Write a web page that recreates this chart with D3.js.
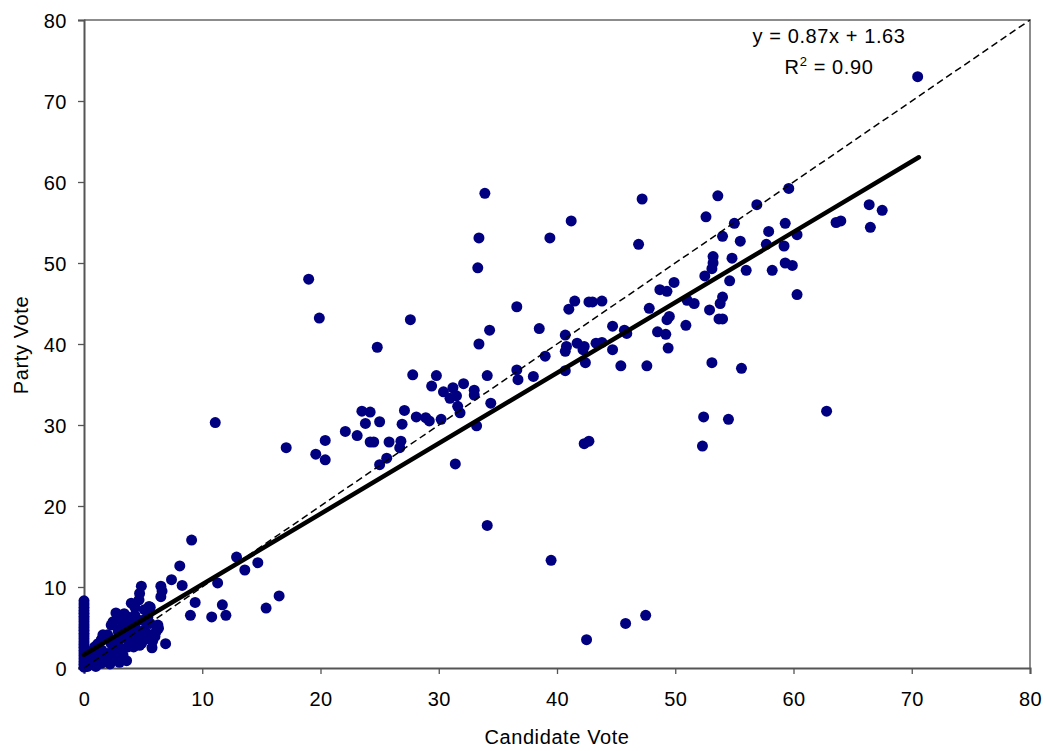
<!DOCTYPE html>
<html>
<head>
<meta charset="utf-8">
<script src="https://cdn.jsdelivr.net/npm/d3@7/dist/d3.min.js"></script>
<style>
  html, body { margin: 0; padding: 0; background: #ffffff; }
  text { font-family: "Liberation Sans", Arial, sans-serif; fill: #000; }
</style>
</head>
<body>
<svg id="chart" width="1045" height="751"></svg>
<script>
// ---- Data ----
const candidateVote = [
  70.5,33.9,47.2,53.6,59.6,41.2,33.4,39.4,46.9,52.6,56.9,55.0,54.0,55.5,57.9,59.3,57.7,59.2,60.3,33.3,
  53.2,53.2,53.1,54.8,58.2,59.3,59.9,56.0,52.5,54.6,49.9,48.7,49.3,60.3,51.0,51.6,54.0,53.8,52.9,53.7,
  54.0,47.8,41.5,42.7,43.0,43.8,41.0,36.6,27.6,34.3,38.5,33.4,40.7,40.8,40.7,41.7,42.3,42.2,43.3,43.8,
  44.7,45.7,45.9,44.7,42.4,39.0,45.4,47.6,48.5,49.2,50.9,49.4,49.5,49.3,53.1,55.6,27.8,29.8,29.4,30.4,
  31.2,32.1,33.0,33.0,34.1,36.6,36.7,38.0,40.7,30.95,31.5,66.4,67.5,63.6,64.0,66.5,62.8,52.3,52.4,54.5,
  42.3,42.7,39.5,45.8,47.5,42.5,11.1,17.1,19.6,20.4,20.4,22.1,23.1,23.5,24.2,23.8,25.0,24.2,24.5,25.8,
  25.0,25.6,26.7,26.8,26.9,27.1,28.1,28.9,29.2,30.2,31.6,31.8,34.4,33.2,31.4,34.1,19.0,19.9,24.8,
  9.1,8.1,7.4,12.9,13.6,14.7,8.3,5.6,11.3,9.4,11.7,9.0,10.8,12.0,15.4,16.5,
  4.85,4.7,4.65,4.0,5.5,6.5,6.6,6.5,2.7,3.4,3.7,4.3,4.6,5.4,5.6,2.45,2.3,3.4,3.1,6.25,
  6.1,6.0,5.8,5.75,6.9,3.6,1.75,1.47,1.18,0.9,0.76,0.62,2.3,2.9,3.4,4.0,4.6,5.1,2.0,2.6,
  3.15,3.7,4.3,4.85,5.1,1.2,1.75,2.3,2.9,3.3,0.34,0.9,1.5,2.0,2.7,0.05,0.6,1.5,3.15,2.9,
  2.0,3.7,4.3,5.0,5.1,4.3,3.9,6.3,4.45,5.0,4.7,4.2,3.6,3.0,2.5,1.6,1.5,1.1,0.8,0.5,
  1.0,2.2,3.0,0.3,0.2,1.3,2.5,3.8,4.5,5.4,
  0,0,0,0,0,0,0,0,0,0,0,0,0,0,0,0,0,0,0,0,0,0,0,0
];
const partyVote = [
  73.0,58.6,57.9,58.3,59.2,55.2,53.1,53.1,52.3,55.7,57.2,54.9,53.3,52.7,53.9,54.9,52.3,52.1,53.5,49.4,
  50.8,50.0,49.3,50.6,49.1,50.0,49.7,49.1,48.4,47.8,47.6,46.7,46.5,46.1,45.4,45.0,45.8,45.0,44.2,43.1,
  43.1,44.4,45.3,45.2,45.2,45.3,44.3,44.6,43.0,41.7,41.9,40.0,41.1,39.7,39.1,40.1,39.7,39.3,40.1,40.2,
  42.2,41.7,41.3,39.3,37.7,38.5,37.3,37.3,41.5,41.2,42.3,39.5,43.4,43.0,37.7,37.0,36.2,36.1,34.8,34.1,
  34.6,35.1,34.3,33.7,36.1,36.8,35.6,36.0,36.7,33.3,33.6,57.2,56.5,55.0,55.2,54.4,31.7,27.4,31.0,30.7,
  27.7,28.0,13.3,5.5,6.5,3.5,30.3,27.2,26.4,25.7,28.1,29.2,28.7,31.7,31.6,30.2,30.4,27.9,27.9,27.9,
  25.1,25.9,27.2,28.0,30.1,31.8,31.0,30.9,30.5,30.7,32.3,31.5,32.7,29.9,25.2,17.6,48.0,43.2,39.6,
  15.8,12.6,10.9,13.7,12.1,13.0,10.2,7.5,10.5,8.1,7.8,6.5,6.3,6.5,7.4,8.9,
  10.1,9.2,8.4,8.0,7.6,10.1,9.5,8.8,6.8,6.7,6.3,6.5,5.9,6.3,5.5,5.7,5.3,5.5,4.9,5.3,
  4.5,3.9,3.3,2.5,3.0,0.9,3.9,3.5,3.0,2.6,2.0,1.6,3.0,3.5,3.9,4.3,4.5,4.7,1.8,2.2,
  2.4,2.6,2.8,3.0,3.5,1.0,1.2,1.3,1.5,1.6,0.6,0.4,0.6,0.8,1.0,0.16,1.2,2.2,5.9,4.5,
  4.1,4.9,5.3,5.9,7.2,7.5,5.5,4.9,4.3,3.5,2.8,2.6,3.9,3.5,3.0,4.1,3.5,2.8,2.2,1.8,
  0.2,0.5,0.7,0.2,1.0,1.6,2.6,3.3,3.8,4.2,
  0.1,0.45,0.8,1.15,1.5,1.85,2.2,2.55,2.9,3.25,3.6,3.95,4.3,4.65,5.0,5.35,5.7,6.05,6.4,6.75,7.1,7.5,7.9,8.3
];
const xTicks = [0, 10, 20, 30, 40, 50, 60, 70, 80];
const yTicks = [0, 10, 20, 30, 40, 50, 60, 70, 80];
const trendSlope = 0.87;
const trendIntercept = 1.63;
const trendRange = [0, 70.6];
const identityRange = [0, 80];
const equationLabel = "y = 0.87x + 1.63";
const r2Value = "0.90";
const xTitle = "Candidate Vote";
const yTitle = "Party Vote";

// ---- Layout ----
const svg = d3.select("#chart");
const mLeft = 84, mRight = 1030, mTop = 20, mBottom = 668;
const FONT = '"Liberation Sans", Arial, sans-serif';

const x = d3.scaleLinear().domain([0, 80]).range([mLeft, mRight]);
const y = d3.scaleLinear().domain([0, 80]).range([mBottom, mTop]);

svg.append("rect").attr("x", 0).attr("y", 0).attr("width", 1045).attr("height", 751).attr("fill", "#fff");

// plot frame (top and right)
svg.append("path")
  .attr("d", `M${mLeft},${mTop}H${mRight}V${mBottom}`)
  .attr("fill", "none").attr("stroke", "#8c8c8c").attr("stroke-width", 2);

// axes
const xAxis = svg.append("g").attr("transform", `translate(0,${mBottom})`)
  .call(d3.axisBottom(x).tickValues(xTicks).tickSize(6).tickPadding(10).tickFormat(d3.format("d")));
const yAxis = svg.append("g").attr("transform", `translate(${mLeft},0)`)
  .call(d3.axisLeft(y).tickValues(yTicks).tickSize(6).tickPadding(10).tickFormat(d3.format("d")));
[xAxis, yAxis].forEach(g => {
  g.select(".domain").attr("stroke", "#555").attr("stroke-width", 2);
  g.selectAll(".tick line").attr("stroke", "#555").attr("stroke-width", 1.3);
  g.selectAll(".tick text").attr("fill", "#000")
    .style("font-family", FONT).style("font-size", "20px").style("letter-spacing", "0.5px");
});
xAxis.selectAll(".tick text").attr("y", 38).attr("dy", null);
yAxis.selectAll(".tick text").attr("x", -17).attr("dy", "0.35em");

// points
const pts = candidateVote.map((v, i) => ({ cx: v, py: partyVote[i] }));
svg.append("g").selectAll("circle").data(pts).join("circle")
  .attr("cx", d => x(d.cx)).attr("cy", d => y(d.py))
  .attr("r", 5.5).attr("fill", "#000080");

// identity dashed line
svg.append("line")
  .attr("x1", x(identityRange[0])).attr("y1", y(identityRange[0]))
  .attr("x2", x(identityRange[1])).attr("y2", y(identityRange[1]))
  .attr("stroke", "#000").attr("stroke-width", 1.5).attr("stroke-dasharray", "7,4");

// trend line
svg.append("line")
  .attr("x1", x(trendRange[0])).attr("y1", y(trendSlope * trendRange[0] + trendIntercept))
  .attr("x2", x(trendRange[1])).attr("y2", y(trendSlope * trendRange[1] + trendIntercept))
  .attr("stroke", "#000").attr("stroke-width", 4.5).attr("stroke-linecap", "round");

// equation labels
svg.append("text").attr("x", 829).attr("y", 43).attr("text-anchor", "middle")
  .style("font-size", "20px").style("letter-spacing", "0.6px").text(equationLabel);
const r2 = svg.append("text").attr("x", 829).attr("y", 74).attr("text-anchor", "middle")
  .style("font-size", "20px").style("letter-spacing", "0.6px");
r2.append("tspan").text("R");
r2.append("tspan").attr("dy", "-8").style("font-size", "13px").text("2");
r2.append("tspan").attr("dy", "8").text(" = " + r2Value);

// axis titles
svg.append("text").attr("x", (mLeft + mRight) / 2).attr("y", 744).attr("text-anchor", "middle")
  .style("font-size", "20px").style("letter-spacing", "0.6px").text(xTitle);
svg.append("text").attr("transform", `translate(28,${(mTop + mBottom) / 2 + 1}) rotate(-90)`)
  .attr("text-anchor", "middle").style("font-size", "20px").style("letter-spacing", "0.6px").text(yTitle);
</script>
</body>
</html>
